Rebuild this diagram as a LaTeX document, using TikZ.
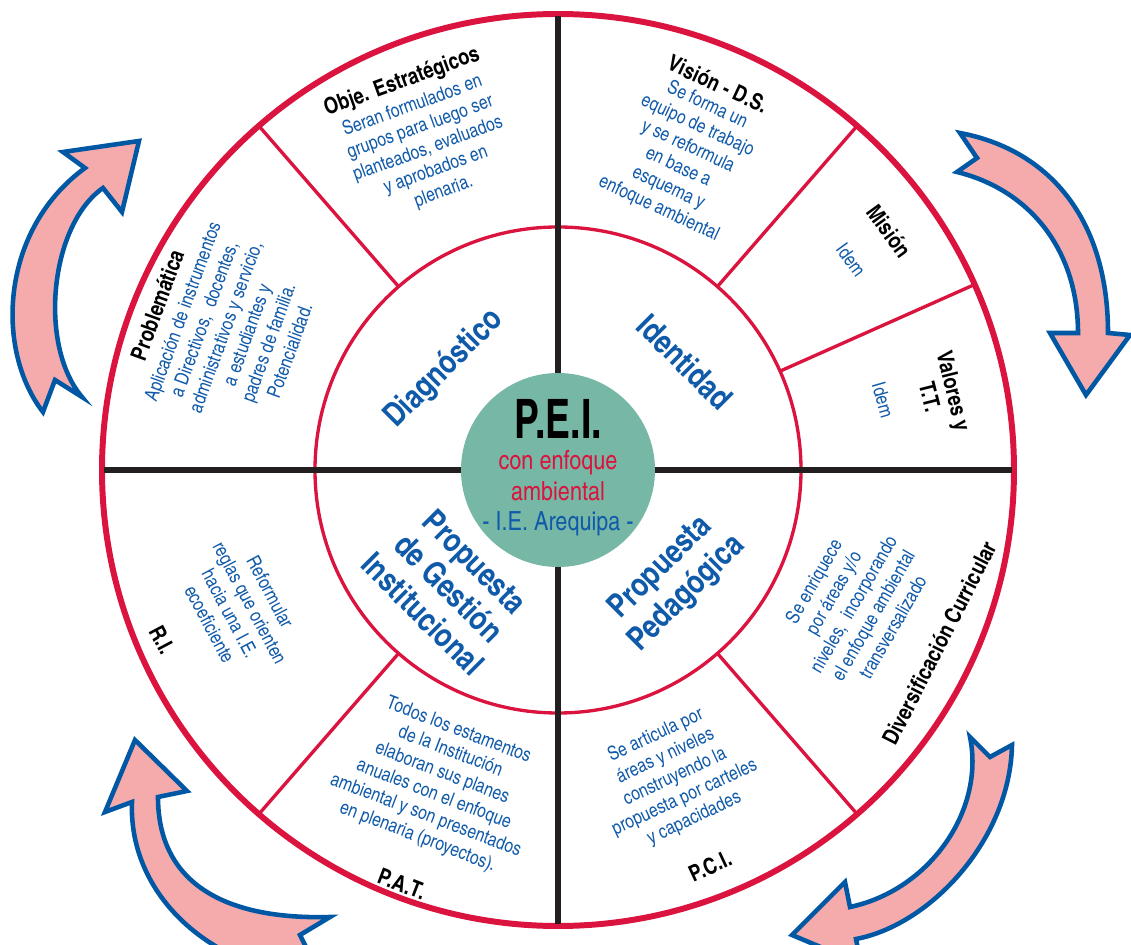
\documentclass[tikz,border=0pt]{standalone}
\usepackage{fontspec}
\setmainfont{texgyreheroscn}[Extension=.otf, UprightFont=*-regular, BoldFont=*-bold, ItalicFont=*-italic, BoldItalicFont=*-bolditalic]
\definecolor{ringred}{RGB}{218,20,62}
\definecolor{textblue}{RGB}{16,90,170}
\definecolor{arrowblue}{RGB}{0,88,165}
\definecolor{arrowpink}{RGB}{245,170,172}
\definecolor{peigreen}{RGB}{119,183,165}
\definecolor{crossblack}{RGB}{35,31,32}

\begin{document}
\begin{tikzpicture}[x=0.02cm, y=0.02cm,
    quadlabel/.style={text=textblue, font=\bfseries\fontsize{18.5}{21}\selectfont, align=center},
    body/.style={text=textblue, font=\fontsize{11}{13}\selectfont, align=center},
    heading/.style={text=black, font=\bfseries\fontsize{12.8}{14}\selectfont, align=center},
    cyclearrow/.style={fill=arrowpink, draw=arrowblue, line width=2.6pt, line join=miter},
    divider/.style={draw=ringred, line width=1.9pt}]
    \def\outerring{(0,0) circle (456)}
    \def\innerring{(0,0) circle (243)}
    \def\peidisc{(0,0) circle (97)}
    \useasboundingbox (-558,-475) rectangle (573,470);
    \begin{scope}
      \clip (-558,-475) rectangle (573,470);
      \draw[cyclearrow] (-515,58) .. controls (-563,120) and (-558,240) .. (-473,302) -- (-495,318) -- (-419,329) -- (-436,258) -- (-455,282) .. controls (-508,245) and (-520,125) .. (-476,73) -- (-503,90) -- cycle;
      \draw[cyclearrow] (402,337) .. controls (492,320) and (550,250) .. (550,137) -- (572,135) -- (528,75) -- (492,137) -- (520,137) .. controls (520,220) and (472,280) .. (399,298) -- (419,312) -- cycle;
      \draw[cyclearrow] (-423,-270) -- (-371,-321) -- (-400,-327) .. controls (-400,-410) and (-338,-450) .. (-228,-447) -- (-258,-465) -- (-238,-505) .. controls (-338,-505) and (-430,-430) .. (-426,-332) -- (-453,-342) -- cycle;
      \draw[cyclearrow] (454,-275) -- (432,-287) -- (412,-267) .. controls (427,-340) and (372,-420) .. (292,-437) -- (287,-412) -- (234,-465) -- (303,-494) -- (298,-469) .. controls (372,-455) and (452,-370) .. cycle;
    \end{scope}
    \begin{scope}%[fill opacity=0.75]
      \draw[ringred, line width=3.4pt] \outerring;
      \draw[ringred, line width=1.9pt] \innerring;
      \draw[crossblack, line width=3pt] (-454,0) -- (454,0) (0,454) -- (0,-454);
      \draw[divider] (131:243) -- (131:456) (49:243) -- (49:456) (24:243) -- (24:456)
        (229:243) -- (229:456) (311:243) -- (311:456);
      \fill[peigreen] \peidisc;
    \end{scope}
    \node[align=center, inner sep=0pt, font=\fontsize{15}{17.5}\selectfont] (pei) at (0,2)
      {\scalebox{0.84}[1]{\bfseries\fontsize{31}{31}\selectfont P.E.I.}\\ \textcolor{ringred}{con enfoque}\\
       \textcolor{ringred}{ambiental}\\ \textcolor{textblue}{- I.E. Arequipa -}};
    \node[quadlabel, rotate=45] (diag) at (-114,101) {Diagnóstico};
    \node[quadlabel, rotate=-45] (ident) at (127,108) {Identidad};
    \node[quadlabel, rotate=-45] (gest) at (-109,-118) {Propuesta\\de Gestión\\Institucional};
    \node[quadlabel, rotate=45] (pedag) at (116,-111) {Propuesta\\Pedagógica};
    \node[heading, rotate=20] (objeT) at (-156,388) {Obje. Estratégicos};
    \node[body, rotate=20] (obje) at (-130,321) {Seran formulados en\\grupos para luego ser\\planteados, evaluados\\y aprobados en\\plenaria.};
    \node[heading, rotate=-25] (visionT) at (160,386) {Visión - D.S.};
    \node[body, rotate=-25] (vision) at (125,313) {Se forma un\\equipo de trabajo\\y se reformula\\en base a\\esquema y\\enfoque ambiental};
    \node[heading, rotate=-54] (misionT) at (331,239) {Misión};
    \node[body, rotate=-54] (mision) at (293,210) {Idem};
    \node[heading, rotate=-76] (valoresT) at (384,76) {Valores y\\T.T.};
    \node[body, rotate=-74] (valores) at (325,70) {Idem};
    \node[heading, rotate=70] (problemT) at (-401,165) {Problemática};
    \node[body, rotate=70] (problem) at (-322,139) {Aplicación de instrumentos\\a Directivos,\ \ docentes,\\administrativos y servicio,\\a estudiantes y\\padres de familia.\\Potencialidad.};
    \node[body, rotate=-62] (ri) at (-318,-138) {Reformular\\reglas que orienten\\hacia una I.E.\\ecoeficiente};
    \node[heading, rotate=-62] (riT) at (-396,-170) {R.I.};
    \node[body, rotate=-21] (pat) at (-120,-314) {Todos los estamentos\\de la Institución\\elaboran sus planes\\anuales con el enfoque\\ambiental y son presentados\\en plenaria (proyectos).};
    \node[heading, rotate=-21] (patT) at (-156,-414) {P.A.T.};
    \node[body, rotate=25] (pci) at (117,-307) {Se articula por\\áreas y niveles\\construyendo la\\propuesta por carteles\\y capacidades};
    \node[heading, rotate=25] (pciT) at (152,-396) {P.C.I.};
    \node[body, rotate=60] (divers) at (295,-134) {Se enriquece\\por áreas y/o\\niveles,\ \ incorporando\\el enfoque ambiental\\transversalizado};
    \node[heading, rotate=63] (diversT) at (381,-173) {Diversificación Curricular};
  \end{tikzpicture}
\end{document}
